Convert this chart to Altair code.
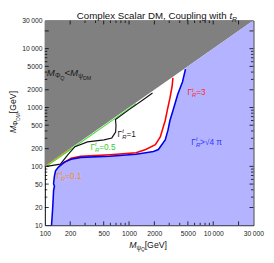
import altair as alt
import pandas as pd

# ---------------- data ----------------
diag_x = [100, 30000]

blue_x = [120, 124, 127, 130, 127, 130, 134, 145, 170, 205, 267, 592, 1210, 1578, 1950, 2230, 2690, 2900, 3060, 3320, 3790, 4320, 4680]
blue_y = [10, 20, 39, 46, 51, 69, 84, 97, 118, 132, 142, 148, 160, 170, 179, 193, 282, 412, 601, 879, 1680, 2740, 4490]

red_x = [150, 205, 267, 592, 1210, 1578, 2055, 2350, 2545, 2690, 2850, 3060, 3250, 3320]
red_y = [104, 137, 149, 158, 170, 193, 233, 316, 461, 601, 900, 1438, 2300, 3190]

black_x = [105, 153, 189, 228, 321, 505, 624, 693, 700, 690, 1000, 1500, 1900]
black_y = [100, 109, 160, 216, 261, 282, 304, 382, 498, 625, 920, 1380, 1760]

green_x = [103, 200, 500, 1000, 1210]
green_y = [99, 191, 478, 957, 1160]

orange_x = [100, 150, 205]
orange_y = [99, 148, 202]

x_label_vals = [100, 200, 500, 1000, 2000, 5000, 10000, 30000]
y_label_vals = [10, 20, 50, 100, 200, 500, 1000, 2000, 5000, 10000, 30000]
x_major = [200, 500, 1000, 2000, 5000, 10000, 20000]
x_minor = [300, 400, 600, 700, 800, 900, 3000, 4000, 6000, 7000, 8000, 9000]
y_major = [20, 50, 100, 200, 500, 1000, 2000, 5000, 10000, 20000]
y_minor = [30, 40, 60, 70, 80, 90, 300, 400, 600, 700, 800, 900, 3000, 4000, 6000, 7000, 8000, 9000]

# ---------------- layout ----------------
W, H = 215, 211
X0, Y0 = 46, 17
FONT = "Liberation Sans"

xs = alt.Scale(type="log", domain=[100, 30000], nice=False)
ys = alt.Scale(type="log", domain=[10, 30000], nice=False)

lab_expr = "datum.value >= 10000 ? replace(format(datum.value, ','), ',', '\u2009') : format(datum.value, 'd')"
xaxis = alt.Axis(values=x_label_vals, labelExpr=lab_expr, ticks=False, domain=False, grid=False,
                 labelFontSize=7, labelFont=FONT, labelColor="#222", labelPadding=5, title=None,
                 labelFlush=False, labelOverlap=False)
yaxis = alt.Axis(values=y_label_vals, labelExpr=lab_expr, ticks=False, domain=False, grid=False,
                 labelFontSize=7, labelFont=FONT, labelColor="#222", labelPadding=3, title=None,
                 labelFlush=False, labelOverlap=False)


def X(f):
    return alt.X(f, type="quantitative", scale=xs, axis=xaxis)


def Y(f):
    return alt.Y(f, type="quantitative", scale=ys, axis=yaxis)


gray = alt.Chart(pd.DataFrame({"x": diag_x, "y": diag_x, "y2": [30000, 30000]})).mark_area(
    color="#808080", orient="vertical").encode(x=X("x"), y=Y("y"), y2="y2")

# light-blue region: below the blue curve / diagonal, down to the bottom of the frame
# (the tiny back-step of the curve near 50 GeV is left out of the fill so x keeps increasing)
keep = [k for k in range(len(blue_x)) if k != 4]
bx = [blue_x[k] for k in keep] + [4680, 30000]
by = [blue_y[k] for k in keep] + [4680, 30000]
blue_area = alt.Chart(pd.DataFrame({"x": bx, "y": by, "y2": [10] * len(bx)})).mark_area(
    color="#b3b3ff", orient="vertical").encode(x=X("x"), y=Y("y"), y2="y2")


def line(xv, yv, color, w):
    df = pd.DataFrame({"x": xv, "y": yv, "i": list(range(len(xv)))})
    return alt.Chart(df).mark_line(color=color, strokeWidth=w).encode(x=X("x"), y=Y("y"), order="i:Q")


lines = [
    line(orange_x, orange_y, "#ff9020", 1.2),
    line(green_x, green_y, "#44dd33", 1.2),
    line(black_x, black_y, "#111111", 1.2),
    line(red_x, red_y, "#ff0000", 1.6),
    line(blue_x, blue_y, "#0000ee", 1.6),
]


def xticks(vals, y1, y2):
    return alt.Chart(pd.DataFrame({"x": vals})).mark_rule(color="black", strokeWidth=0.8).encode(
        x=X("x"), y=alt.value(y1), y2=alt.value(y2))


def yticks(vals, x1, x2):
    return alt.Chart(pd.DataFrame({"y": vals})).mark_rule(color="black", strokeWidth=0.8).encode(
        y=Y("y"), x=alt.value(x1), x2=alt.value(x2))


ticks = [
    xticks(x_major, H, H - 4), xticks(x_minor, H, H - 2.5),
    xticks(x_major, 0, 4), xticks(x_minor, 0, 2.5),
    yticks(y_major, 0, 4), yticks(y_minor, 0, 2.5),
    yticks(y_major, W, W - 4), yticks(y_minor, W, W - 2.5),
]

# ---------------- text (rich pieces) ----------------
WID = {"M": 0.833, "Φ": 0.80, "ψ": 0.70, "Q": 0.778, "D": 0.722, "<": 0.584, ">": 0.584, "=": 0.584,
       "[": 0.278, "]": 0.278, "G": 0.778, "e": 0.556, "V": 0.667, "Γ": 0.556, "t": 0.278, "R": 0.722,
       ".": 0.278, " ": 0.278, "√": 0.549, "π": 0.60, ",": 0.278, "C": 0.722, "o": 0.556, "m": 0.833,
       "p": 0.556, "l": 0.222, "x": 0.5, "S": 0.667, "c": 0.5, "a": 0.556, "r": 0.333, "u": 0.556,
       "i": 0.222, "n": 0.556, "g": 0.556, "w": 0.722, "h": 0.556}


def tw(s, size):
    return sum(WID.get(ch, 0.556) for ch in s) * size


rows = []


def run(pieces, x, y, color, ang=0):
    pos = 0.0
    for text, size, shift, style, adv in pieces:
        if ang == 0:
            px, py = x + pos, y + shift
        else:
            px, py = x + shift, y - pos
        rows.append({"text": text, "px": px - X0, "py": py - Y0, "size": size, "color": color,
                     "ang": ang, "style": style})
        if adv:
            pos += tw(text, size)


def gamma(rest, x, y, color):
    run([("Γ", 8.5, 0, "n", True), ("t", 6, -3.8, "i", False), ("R", 6, 2, "i", True),
         (rest, 8.5, 0, "n", True)], x, y, color)


run([("Complex Scalar DM, Coupling with ", 10, 0, "n", True), ("t", 10, 0, "i", True),
     ("R", 7, 2.5, "i", True)], 79, 15.5, "#111")
run([("M", 9, 0, "i", True), ("ψ", 6.5, 2.5, "n", True), ("Q", 5, 4, "i", True),
     ("[GeV]", 9, 0, "n", True)], 133, 251, "#111")
run([("M", 9, 0, "i", True), ("Φ", 6.5, 2.5, "n", True), ("DM", 5, 4, "n", True),
     ("[GeV]", 9, 0, "n", True)], 16, 133, "#111", ang=270)
run([("M", 10, 0, "i", True), ("Φ", 7, 2.5, "n", True), ("Q", 5.5, 4.5, "i", True),
     ("<", 10, 0, "n", True), ("M", 10, 0, "i", True), ("ψ", 7, 2.5, "n", True),
     ("DM", 5.5, 4.5, "n", True)], 48, 74, "#1a1a1a")
gamma("=1", 121, 137, "#222222")
gamma("=0.5", 93, 150, "#33cc33")
gamma("=0.1", 58, 180, "#ff8c1a")
gamma("=3", 193, 94, "#ff2a2a")
gamma(">√4 π", 197, 145, "#3333ff")

tdf = pd.DataFrame(rows)


def texts(style):
    d = tdf[tdf["style"] == style]
    return alt.Chart(d).mark_text(align="left", baseline="alphabetic", font=FONT,
                                  fontStyle="italic" if style == "i" else "normal").encode(
        x=alt.X("px:Q", scale=None, axis=None), y=alt.Y("py:Q", scale=None, axis=None),
        text="text:N", size=alt.Size("size:Q", scale=None), color=alt.Color("color:N", scale=None),
        angle=alt.Angle("ang:Q", scale=None))


chart = alt.layer(gray, blue_area, *lines, *ticks, texts("n"), texts("i")).properties(
    width=W, height=H, autosize=alt.AutoSizeParams(type="none"),
    padding={"left": 38, "top": 9, "right": 13, "bottom": 35},
).configure_view(stroke="black", strokeWidth=1)

chart.save("out.html", embed_options={"renderer": "svg", "actions": False})
